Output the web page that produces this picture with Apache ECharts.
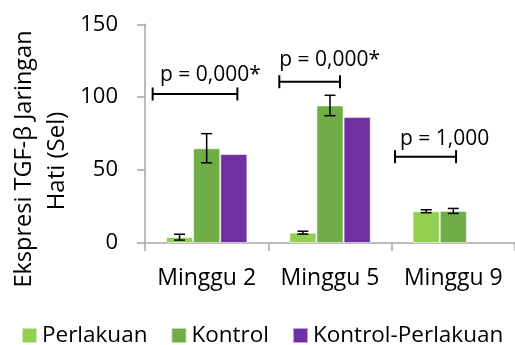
<!DOCTYPE html>
<html>
<head>
<meta charset="utf-8">
<script src="https://cdn.jsdelivr.net/npm/echarts@6/dist/echarts.min.js"></script>
<style>html,body{margin:0;padding:0;background:#fff}#c{width:515px;height:345px}</style>
</head>
<body>
<div id="c"></div>
<script>
// ---- data ----
var categories = ['Minggu 2', 'Minggu 5', 'Minggu 9'];
var seriesNames = ['Perlakuan', 'Kontrol', 'Kontrol-Perlakuan'];
var perlakuan = [4, 7.1, 21.8];
var kontrol = [65, 94.3, 22];
var kontrolPerlakuan = [61, 86.5, null];
var errPerlakuan = [2, 1, 1];
var errKontrol = [10, 7, 1.7];
var yTicks = [0, 50, 100, 150];
// significance brackets: start/end in category units (category i spans [i, i+1])
var bracketStart = [0.062, 1.089, 2.027];
var bracketEnd = [0.749, 1.581, 2.522];
var bracketY = [102.2, 110.6, 59.2];
var bracketLabels = ['p = 0,000*', 'p = 0,000*', 'p = 1,000'];
var labelX = [0.122, 1.089, 2.068];
var labelY = [115.2, 125.5, 71.5];
var yTitleLines = ['Ekspresi TGF-\u03b2 Jaringan', 'Hati (Sel)'];

var colors = ['#92D050', '#70AD47', '#7030A0'];
var FONT = '"Open Sans", sans-serif';
var CAT_GAP = 0.34;

function errRender(offsetIndex) {
  return function (params, api) {
    var idx = api.value(0), v = api.value(1), e = api.value(2);
    var band = api.size([1, 0])[0];
    var bw = band * (1 - CAT_GAP) / 3;
    var c = api.coord([idx, v]);
    var x = c[0] + offsetIndex * bw;
    var top = api.coord([idx, v + e])[1];
    var bot = api.coord([idx, v - e])[1];
    var hw = 5.5;
    var st = { stroke: '#000', lineWidth: 1.5 };
    return { type: 'group', children: [
      { type: 'line', shape: { x1: x, y1: top, x2: x, y2: bot }, style: st },
      { type: 'line', shape: { x1: x - hw, y1: top, x2: x + hw, y2: top }, style: st },
      { type: 'line', shape: { x1: x - hw, y1: bot, x2: x + hw, y2: bot }, style: st }
    ]};
  };
}

function bracketRender(params, api) {
  var a = api.coord([api.value(0), api.value(2)]);
  var b = api.coord([api.value(1), api.value(2)]);
  var t = api.coord([api.value(3), api.value(4)]);
  var st = { stroke: '#000', lineWidth: 2 };
  var h = 6.5;
  return { type: 'group', children: [
    { type: 'line', shape: { x1: a[0], y1: a[1], x2: b[0], y2: b[1] }, style: st },
    { type: 'line', shape: { x1: a[0], y1: a[1] - h, x2: a[0], y2: a[1] + h }, style: st },
    { type: 'line', shape: { x1: b[0], y1: b[1] - h, x2: b[0], y2: b[1] + h }, style: st },
    { type: 'text', x: t[0], y: t[1], style: {
      text: bracketLabels[params.dataIndex], fill: '#000', font: '21px ' + FONT,
      textAlign: 'left', textVerticalAlign: 'middle' } }
  ]};
}

var chart = echarts.init(document.getElementById('c'), null, { renderer: 'canvas' });
var barBase = { type: 'bar', barGap: '0%', barCategoryGap: (CAT_GAP * 100) + '%',
  itemStyle: { borderColor: 'rgba(255,255,255,0.55)', borderWidth: 1 } };

chart.setOption({
  animation: false,
  textStyle: { fontFamily: FONT },
  color: colors,
  grid: { left: 145, right: 0, top: 24.3, bottom: 102 },
  legend: {
    data: seriesNames, left: 21, top: 324, icon: 'rect', padding: 0,
    itemWidth: 15, itemHeight: 15, itemGap: 23,
    textStyle: { fontSize: 22.5, color: '#000', fontFamily: FONT }
  },
  xAxis: [
    { type: 'category', data: categories,
      axisLine: { lineStyle: { color: '#a6a6a6', width: 1.5 } },
      axisTick: { show: true, length: 8, interval: 0, lineStyle: { color: '#a6a6a6', width: 1.5 } },
      axisLabel: { fontSize: 23, color: '#000', margin: 24, interval: 0, hideOverlap: false } },
    { type: 'value', min: 0, max: 3, show: false }
  ],
  yAxis: {
    type: 'value', min: yTicks[0], max: yTicks[yTicks.length - 1], interval: 50,
    axisLine: { show: true, lineStyle: { color: '#a6a6a6', width: 1.5 } },
    axisTick: { show: true, length: 8, lineStyle: { color: '#a6a6a6', width: 1.5 } },
    splitLine: { show: false },
    axisLabel: { fontSize: 22, color: '#000', margin: 27 }
  },
  graphic: [{
    type: 'text', x: 24, y: 159, rotation: Math.PI / 2,
    style: { text: yTitleLines[0], font: '23.5px ' + FONT, fill: '#000', textAlign: 'center',
      textVerticalAlign: 'middle' }
  }, {
    type: 'text', x: 57, y: 161, rotation: Math.PI / 2,
    style: { text: yTitleLines[1], font: '24px ' + FONT, fill: '#000', textAlign: 'center',
      textVerticalAlign: 'middle' }
  }],
  series: [
    Object.assign({}, barBase, { name: seriesNames[0], data: perlakuan }),
    Object.assign({}, barBase, { name: seriesNames[1], data: kontrol }),
    Object.assign({}, barBase, { name: seriesNames[2], data: kontrolPerlakuan }),
    { type: 'custom', renderItem: errRender(-1), z: 10,
      data: perlakuan.map(function (v, i) { return [i, v, errPerlakuan[i]]; }) },
    { type: 'custom', renderItem: errRender(0), z: 10,
      data: kontrol.map(function (v, i) { return [i, v, errKontrol[i]]; }) },
    { type: 'custom', xAxisIndex: 1, renderItem: bracketRender, z: 10,
      data: bracketStart.map(function (s, i) { return [s, bracketEnd[i], bracketY[i], labelX[i], labelY[i]]; }) }
  ]
});
</script>
</body>
</html>
